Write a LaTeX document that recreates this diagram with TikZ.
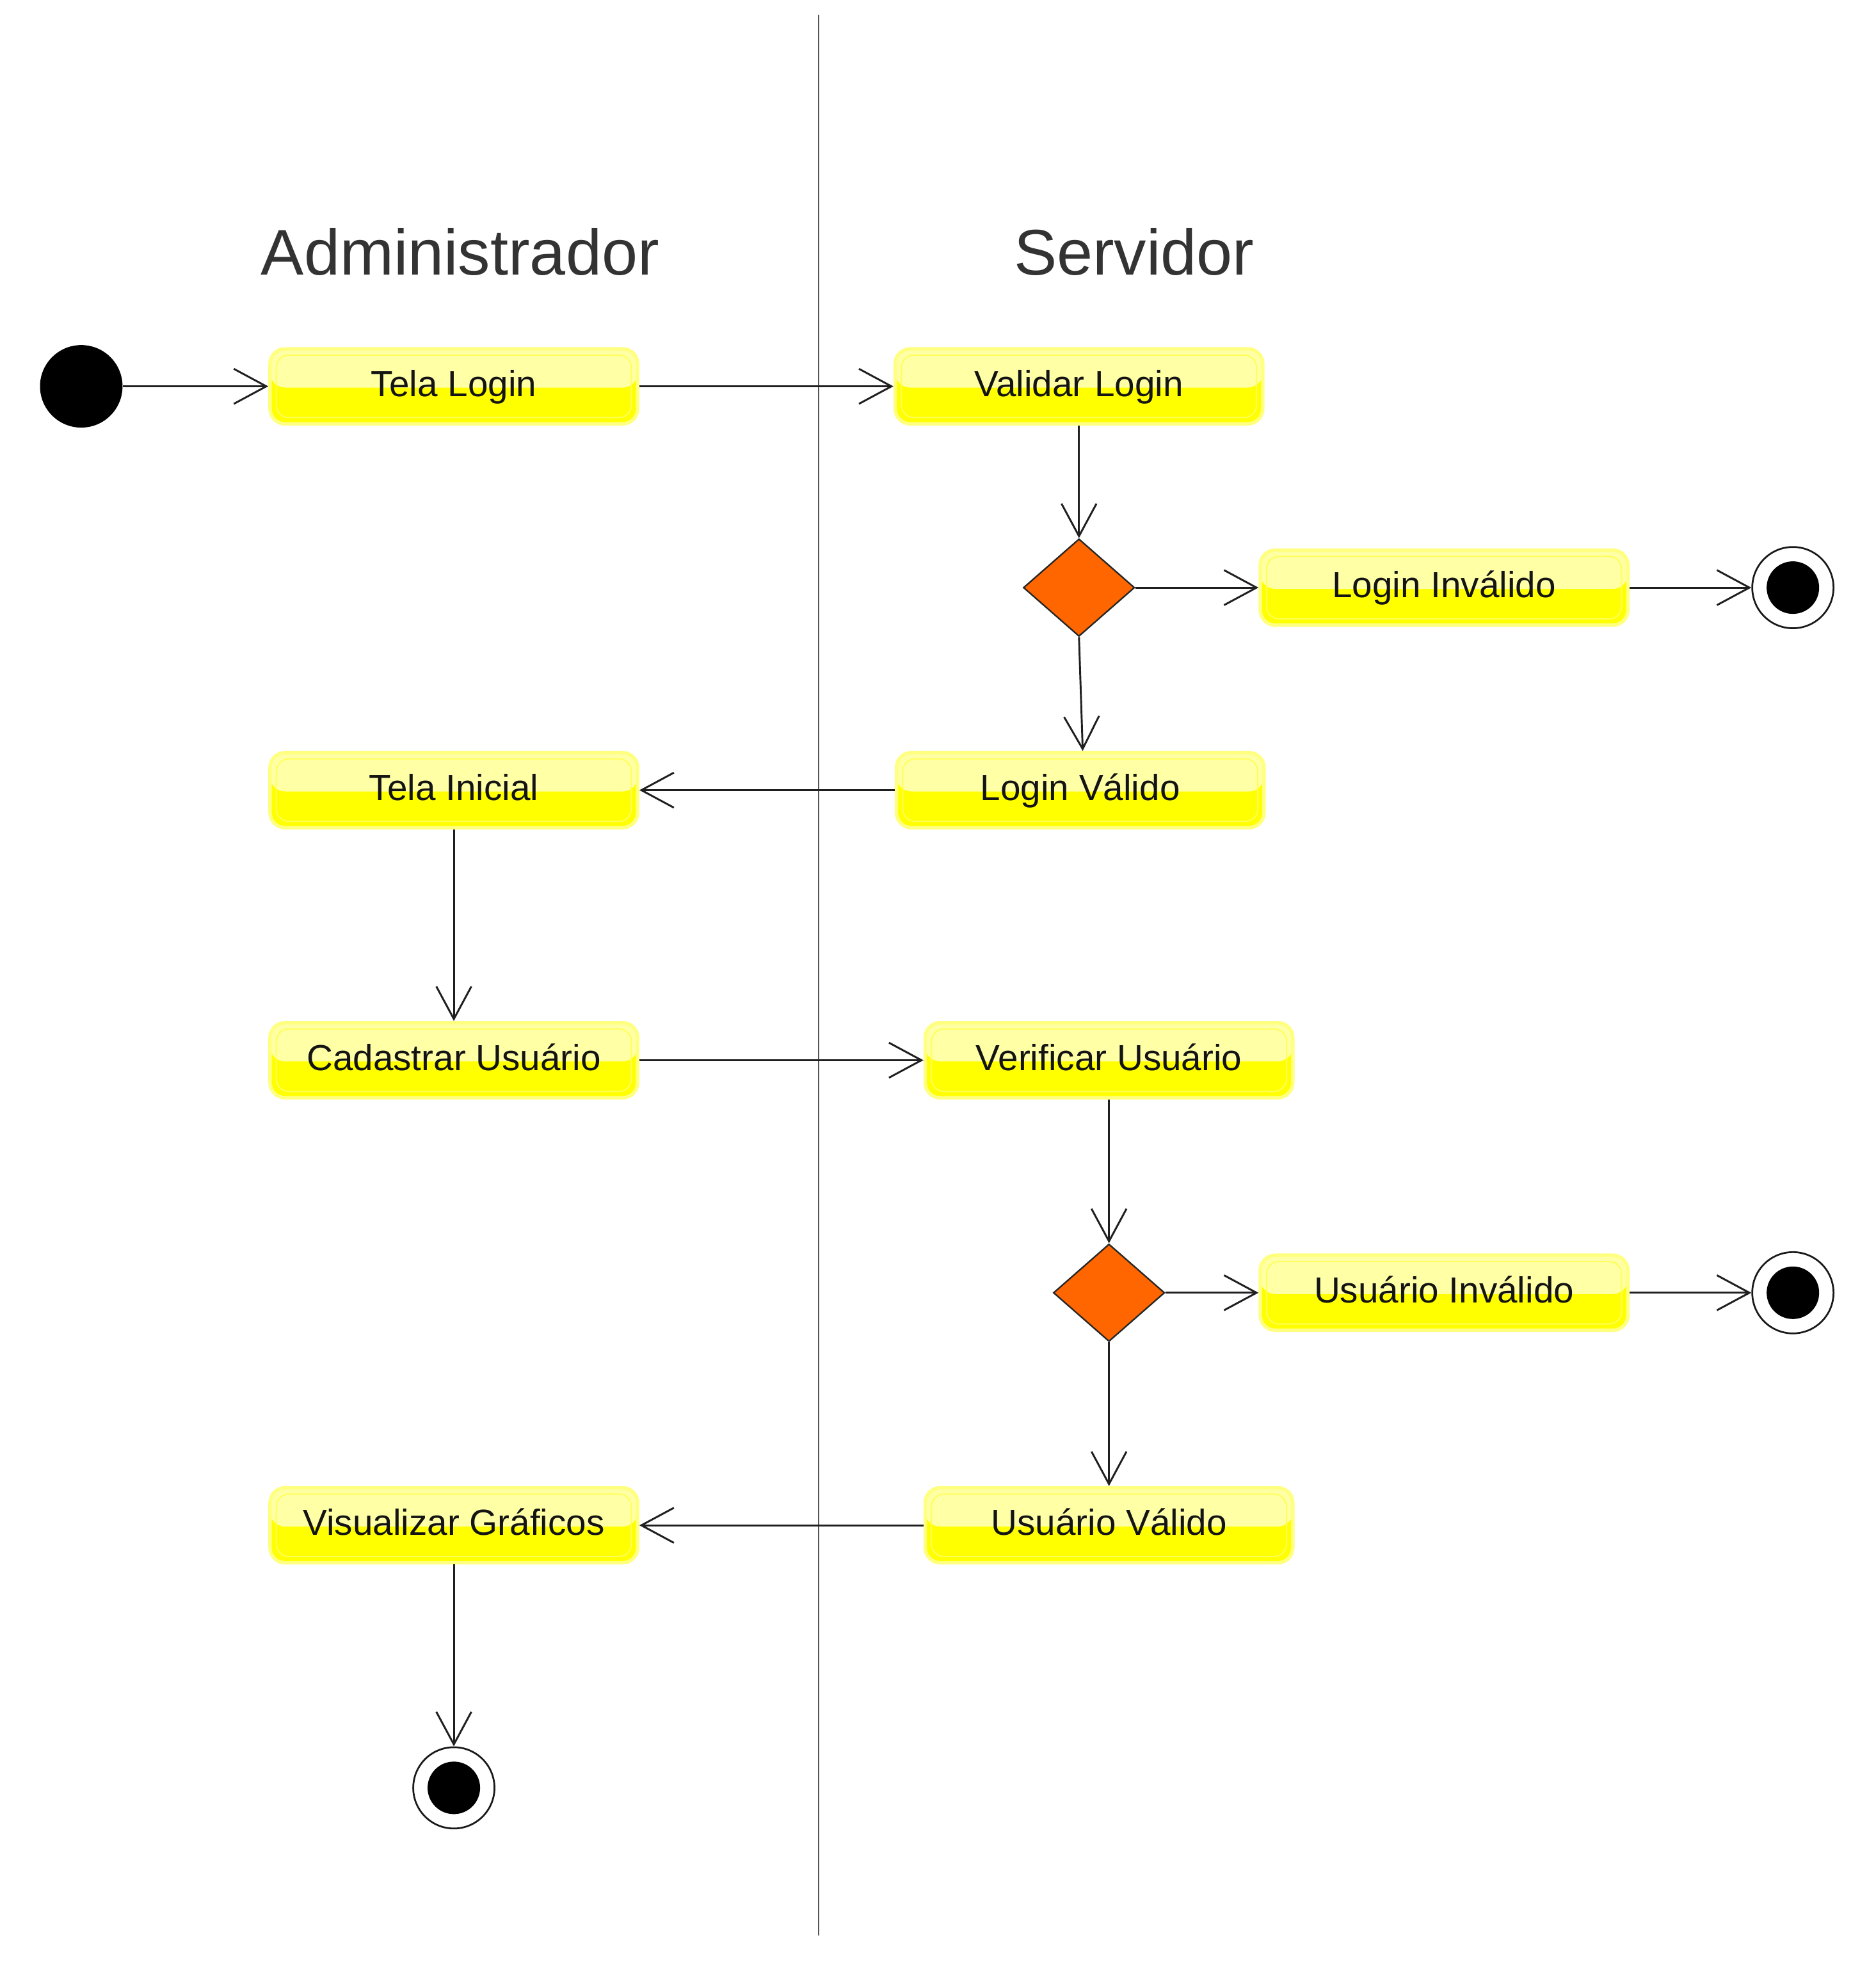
\documentclass[tikz,border=0pt]{standalone}
\usepackage{fontspec}
\setmainfont{Liberation Sans}
\usetikzlibrary{arrows.meta,shapes.geometric}
\definecolor{actlight}{HTML}{FFFFA6}
\definecolor{actyellow}{HTML}{FFFF00}
\definecolor{actborder}{HTML}{FFFF80}
\definecolor{decorange}{HTML}{FF6600}
\definecolor{lanegray}{HTML}{555555}
\definecolor{headgray}{HTML}{333333}
\begin{document}
\begin{tikzpicture}[x=0.5pt,y=-0.5pt,
  act/.style={rectangle, rounded corners=6pt, minimum width=147pt, minimum height=30pt,
    inner sep=0pt, fill=actyellow, draw=actborder, line width=1.4pt,
    font=\fontsize{14.5}{16}\selectfont, text=black!92, text height=0.8em, text depth=0pt,
    path picture={
      \fill[actlight] (path picture bounding box.north west) rectangle ([yshift=-0.5pt]path picture bounding box.east);
      \draw[white!35!actyellow, line width=0.5pt, rounded corners=5pt]
        ([shift={(2.5pt,-2.5pt)}]path picture bounding box.north west) rectangle
        ([shift={(-2.5pt,2.5pt)}]path picture bounding box.south east);
    }},
  decision/.style={diamond, minimum width=44.5pt, minimum height=39pt, inner sep=0pt,
    fill=decorange, draw=black!85, line width=0.6pt},
  initial/.style={circle, fill=black, minimum size=33pt, inner sep=0pt},
  final/.style={circle, fill=white, draw=black!90, line width=0.7pt, minimum size=32.5pt, inner sep=0pt,
    path picture={\fill[black] (path picture bounding box.center) circle (10.5pt);}},
  flow/.style={draw=black!88, line width=0.75pt, -{Straight Barb[length=13pt,width=14pt]}},
  header/.style={font=\fontsize{25.8}{30}\selectfont, text=headgray, anchor=base, inner sep=0pt}
]
\useasboundingbox (0,0) rectangle (1500,1570.1);
\fill[white] (0,0) rectangle (1500,1570.1);

% swimlane separator
\coordinate (laneTop) at (655,12);
\coordinate (laneBot) at (655,1548);
\draw[lanegray, line width=0.5pt] (laneTop) -- (laneBot);

% headers
\node[header] (hAdm) at (368,220) {Administrador};
\node[header] (hSrv) at (907,220) {Servidor};

% nodes
\node[initial] (start) at (65,309) {};
\node[act] (telaLogin) at (363,309) {Tela Login};
\node[act] (validar) at (863,309) {Validar Login};
\node[decision] (dec1) at (863,470) {};
\node[act] (loginInv) at (1155,470) {Login Inválido};
\node[final] (end1) at (1434,470) {};
\node[act] (loginVal) at (864,632) {Login Válido};
\node[act] (telaIni) at (363,632) {Tela Inicial};
\node[act] (cadastrar) at (363,848) {Cadastrar Usuário};
\node[act] (verificar) at (887,848) {Verificar Usuário};
\node[decision] (dec2) at (887,1034) {};
\node[act] (usuInv) at (1155,1034) {Usuário Inválido};
\node[final] (end2) at (1434,1034) {};
\node[act] (usuVal) at (887,1220) {Usuário Válido};
\node[act] (visual) at (363,1220) {Visualizar Gráficos};
\node[final] (end3) at (363,1430) {};

% connectors
\draw[flow] (start) -- (telaLogin);
\draw[flow] (telaLogin) -- (validar);
\draw[flow] (validar) -- (dec1);
\draw[flow] (dec1) -- (loginInv);
\draw[flow] (loginInv) -- (end1);
\draw[flow] (dec1.south) -- ([xshift=1pt]loginVal.north);
\draw[flow] (loginVal) -- (telaIni);
\draw[flow] (telaIni) -- (cadastrar);
\draw[flow] (cadastrar) -- (verificar);
\draw[flow] (verificar) -- (dec2);
\draw[flow] (dec2) -- (usuInv);
\draw[flow] (usuInv) -- (end2);
\draw[flow] (dec2) -- (usuVal);
\draw[flow] (usuVal) -- (visual);
\draw[flow] (visual) -- (end3);
\end{tikzpicture}
\end{document}
